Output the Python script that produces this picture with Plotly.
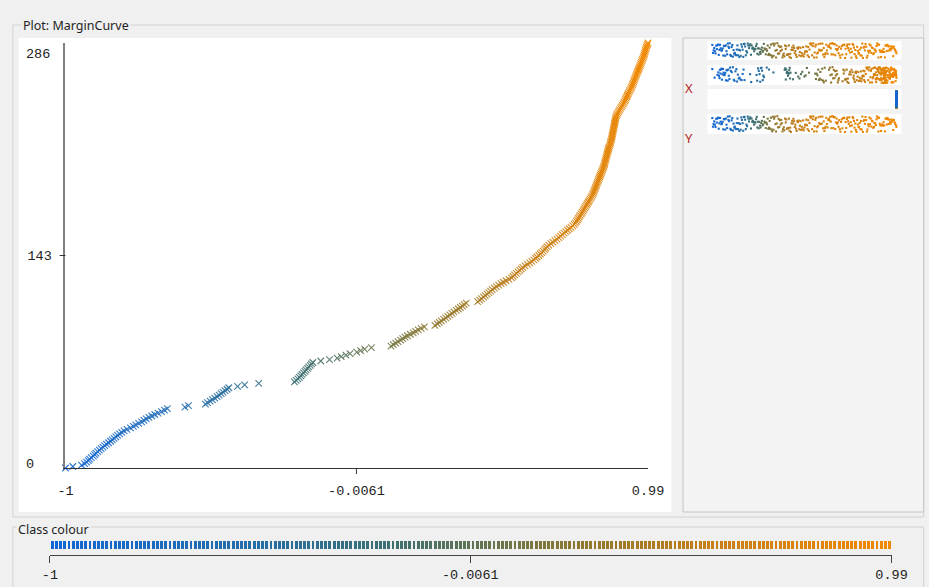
import plotly.graph_objects as go
import numpy as np

# ---------------- data ----------------
# Margin value of each instance, sorted; the y value is the cumulative count
margins = [
    -1.000, -0.975,
    -0.945, -0.935, -0.928, -0.922, -0.918, -0.912, -0.905, -0.900, -0.896, -0.890,
    -0.884, -0.878, -0.872, -0.866, -0.860, -0.853, -0.846, -0.840, -0.834, -0.828,
    -0.822, -0.815, -0.808, -0.800, -0.790, -0.778, -0.768, -0.760, -0.750, -0.740,
    -0.732, -0.724, -0.715, -0.705, -0.695, -0.684, -0.672, -0.662, -0.652,
    -0.592, -0.580,
    -0.522, -0.515, -0.506, -0.498, -0.490, -0.482, -0.475, -0.468, -0.462, -0.455, -0.448, -0.442,
    -0.412, -0.388, -0.340,
    -0.218, -0.212, -0.206, -0.201, -0.196, -0.192, -0.187, -0.182, -0.178, -0.173, -0.169, -0.164, -0.160, -0.155,
    -0.128, -0.098, -0.072, -0.058, -0.042, -0.028, -0.005, 0.008, 0.022, 0.045,
    0.112, 0.120, 0.128, 0.136, 0.145, 0.152, 0.160, 0.168, 0.178, 0.188, 0.196, 0.205, 0.215, 0.226,
    0.262, 0.270, 0.277, 0.284, 0.292, 0.299, 0.306, 0.313, 0.320, 0.327, 0.335, 0.342, 0.349, 0.356, 0.362, 0.369,
    0.408, 0.415, 0.421, 0.428, 0.434, 0.440, 0.446, 0.452, 0.458, 0.465, 0.472, 0.480, 0.488, 0.496, 0.505, 0.515,
    0.524, 0.529, 0.534, 0.540, 0.546, 0.552, 0.557, 0.562, 0.570, 0.578, 0.586, 0.593, 0.600, 0.606, 0.611, 0.617,
    0.622, 0.627, 0.632, 0.637, 0.641, 0.645,
    0.651, 0.658, 0.665, 0.672, 0.679, 0.685, 0.691, 0.697, 0.703, 0.709, 0.715, 0.721, 0.727, 0.733, 0.738, 0.742,
    0.746, 0.749, 0.752, 0.755, 0.758,
    0.762, 0.765, 0.768, 0.771, 0.774, 0.777, 0.780, 0.783, 0.786, 0.789, 0.792, 0.795, 0.798, 0.801, 0.803, 0.805,
    0.807, 0.809, 0.811, 0.813, 0.815, 0.817, 0.819,
    0.821, 0.823, 0.825, 0.827, 0.829, 0.831, 0.833, 0.835, 0.837, 0.839, 0.841, 0.842, 0.843, 0.845, 0.846, 0.847,
    0.849, 0.850, 0.851, 0.853, 0.854, 0.855, 0.857, 0.859,
    0.861, 0.862, 0.863, 0.865, 0.866, 0.867, 0.868, 0.869, 0.870, 0.871, 0.872, 0.873, 0.874, 0.875, 0.876, 0.877,
    0.878, 0.879, 0.880, 0.882, 0.884,
    0.887, 0.890, 0.893, 0.896, 0.899, 0.902, 0.905, 0.908, 0.911, 0.913, 0.915, 0.918, 0.920, 0.922, 0.925, 0.927,
    0.930, 0.933,
    0.935, 0.937, 0.939, 0.941, 0.943, 0.945, 0.947, 0.949, 0.951, 0.953, 0.955, 0.957, 0.959, 0.961, 0.963, 0.965,
    0.967, 0.969, 0.971, 0.973,
    0.975, 0.977, 0.978, 0.980, 0.981, 0.983, 0.984, 0.986, 0.988, 0.990,
]
cumulative = list(range(len(margins)))          # 0 .. 286
current = [1] * len(margins)                    # constant attribute

x_tick_vals = [-1, -0.0061, 0.99]
x_tick_text = ["-1", "-0.0061", "0.99"]
y_min, y_mid, y_max = 0, 143, 286
m_min, m_max = -1.0, 0.99

# ---------------- styling ----------------
W, H = 929, 587
def px(x):
    return x / W
def py(y):
    return 1 - y / H

BG = "#f0f0f0"
MONO = "Liberation Mono, DejaVu Sans Mono, monospace"
SANS = "Noto Sans, Open Sans, sans-serif"
class_scale = [
    [0.00, "rgb(18,102,214)"],
    [0.25, "rgb(38,110,165)"],
    [0.40, "rgb(60,112,115)"],
    [0.50, "rgb(95,116,85)"],
    [0.62, "rgb(138,120,50)"],
    [0.78, "rgb(196,126,24)"],
    [1.00, "rgb(242,136,0)"],
]
AX_BOTTOM, AX_TOP = 468, 43   # pixel rows of y = 0 and y = 286

fig = go.Figure()

# main margin curve
fig.add_trace(go.Scatter(
    x=margins, y=cumulative, mode="markers", xaxis="x", yaxis="y",
    cliponaxis=False, showlegend=False, hoverinfo="x+y",
    marker=dict(symbol="x-thin-open", size=6.5, color=margins, colorscale=class_scale,
                cmin=m_min, cmax=m_max, line=dict(width=1.1), opacity=0.9),
))

# class colour bar
n_stripes = 200
stripe_w = (m_max - m_min) / n_stripes
stripe_x = np.linspace(m_min + stripe_w / 2, m_max - stripe_w / 2, n_stripes)
fig.add_trace(go.Bar(
    x=stripe_x, y=[0.536] * n_stripes, base=[0.464] * n_stripes, width=stripe_w * 0.68,
    xaxis="x2", yaxis="y2", showlegend=False, hoverinfo="skip",
    marker=dict(color=stripe_x, colorscale=class_scale, cmin=m_min, cmax=m_max, line=dict(width=0)),
))

# attribute strips (right panel) - deterministic vertical jitter only
def hash01(i):
    x = ((i + 1) * 0x45D9F3B) & 0xFFFFFFFF
    x = (((x >> 16) ^ x) * 0x45D9F3B) & 0xFFFFFFFF
    x = (x >> 16) ^ x
    return (x % 10007) / 10006

n = len(margins)
jit = [hash01(i) for i in range(n)]
def norm(vals, lo, hi):
    if hi == lo:
        return [1.0] * len(vals)
    return [(v - lo) / (hi - lo) for v in vals]

strips = [
    (norm(cumulative, 0, n - 1), 76, 15, False),
    (norm(margins, m_min, m_max), 51, 16, False),
    (norm(current, min(current), max(current)), 26, 17, True),
    (norm(cumulative, 0, n - 1), 2, 16, False),
]
for xs, y0, h, rev in strips:
    ys = [y0 + j * h for j in jit]
    cs = list(margins)
    if rev:
        xs, ys, cs = xs[::-1], ys[::-1], cs[::-1]
    fig.add_trace(go.Scatter(
        x=xs, y=ys, mode="markers", xaxis="x3", yaxis="y3",
        showlegend=False, hoverinfo="skip", cliponaxis=False,
        marker=dict(symbol="square", size=2.1, color=cs, colorscale=class_scale,
                    cmin=m_min, cmax=m_max, line=dict(width=0)),
    ))

shapes = [
    # outer frame of plot panel
    dict(type="rect", xref="paper", yref="paper", x0=px(5), x1=px(940), y0=py(517), y1=py(25),
         line=dict(color="#d2d2d2", width=1), fillcolor="rgba(0,0,0,0)", layer="below"),
    # white plot area
    dict(type="rect", xref="paper", yref="paper", x0=px(11), x1=px(681), y0=py(512), y1=py(38),
         line=dict(width=0), fillcolor="white", layer="below"),
    # right panel
    dict(type="rect", xref="paper", yref="paper", x0=px(693), x1=px(940), y0=py(512), y1=py(38),
         line=dict(color="#c4c4c4", width=1), fillcolor="#f3f3f3", layer="below"),
    # class colour frame
    dict(type="rect", xref="paper", yref="paper", x0=px(5), x1=px(940), y0=py(600), y1=py(527),
         line=dict(color="#d2d2d2", width=1), fillcolor="rgba(0,0,0,0)", layer="below"),
    # tick marks
    dict(type="line", xref="paper", yref="y", x0=px(53), x1=px(59), y0=y_mid, y1=y_mid,
         line=dict(color="#333", width=1)),
    dict(type="line", xref="x", yref="paper", x0=-0.0061, x1=-0.0061,
         y0=py(AX_BOTTOM), y1=py(AX_BOTTOM + 6), line=dict(color="#333", width=1)),
]
for top, bot in [(41, 60), (65, 85), (89, 109), (114, 134)]:
    shapes.append(dict(type="rect", xref="paper", yref="paper", x0=px(718), x1=px(917),
                       y0=py(bot), y1=py(top), line=dict(width=0), fillcolor="white", layer="below"))

tick_font = dict(family=MONO, size=13.5, color="#222")
annotations = [
    dict(text="Plot: MarginCurve", x=px(13), y=py(25), xref="paper", yref="paper",
         xanchor="left", yanchor="middle", showarrow=False, bgcolor=BG,
         font=dict(family=SANS, size=12.5, color="#1e1e1e"), borderpad=1),
    dict(text="Class colour", x=px(8), y=py(529), xref="paper", yref="paper",
         xanchor="left", yanchor="middle", showarrow=False, bgcolor=BG,
         font=dict(family=SANS, size=12.5, color="#1e1e1e"), borderpad=1),
    dict(text="X", x=px(705), y=py(77), xref="paper", yref="paper", showarrow=False,
         font=dict(family=SANS, size=13, color="#b41e1e")),
    dict(text="Y", x=px(705), y=py(127), xref="paper", yref="paper", showarrow=False,
         font=dict(family=SANS, size=13, color="#b41e1e")),
    # end labels of the y axis (left aligned as in the reference)
    dict(text=str(y_max), x=px(16), y=py(55), xref="paper", yref="paper", xanchor="left",
         yanchor="middle", showarrow=False, font=tick_font),
    dict(text=str(y_min), x=px(16), y=py(465), xref="paper", yref="paper", xanchor="left",
         yanchor="middle", showarrow=False, font=tick_font),
]

fig.update_layout(
    width=W, height=H, margin=dict(l=0, r=0, t=0, b=0),
    paper_bgcolor=BG, plot_bgcolor="rgba(0,0,0,0)",
    bargap=0, shapes=shapes, annotations=annotations, showlegend=False,
    xaxis=dict(domain=[px(59), px(657)], range=[m_min, m_max], anchor="y",
               showline=True, linecolor="#333", linewidth=1, showgrid=False, zeroline=False,
               ticks="", tickvals=x_tick_vals, ticktext=x_tick_text, ticklabelstandoff=10,
               tickfont=tick_font),
    yaxis=dict(domain=[py(AX_BOTTOM), py(AX_TOP)], range=[y_min, y_max], anchor="x",
               showline=True, linecolor="#808080", linewidth=2, showgrid=False, zeroline=False,
               ticks="", tickvals=[y_mid], ticktext=[str(y_mid)], ticklabelstandoff=9,
               tickfont=tick_font),
    xaxis2=dict(domain=[px(43), px(907)], range=[m_min, m_max], anchor="y2",
                showline=True, linecolor="#444", linewidth=1, showgrid=False, zeroline=False,
                ticks="outside", ticklen=7, tickcolor="#444",
                tickvals=x_tick_vals, ticktext=x_tick_text, tickfont=tick_font),
    yaxis2=dict(domain=[py(555), py(541)], range=[0, 1], anchor="x2", visible=False),
    xaxis3=dict(domain=[px(723), px(912)], range=[0, 1], anchor="y3", visible=False),
    yaxis3=dict(domain=[py(134), py(41)], range=[0, 93], anchor="x3", visible=False),
)

fig.write_html(
    "out.html",
    config={"displayModeBar": False},
    post_script="document.body.style.margin='0';",
)
